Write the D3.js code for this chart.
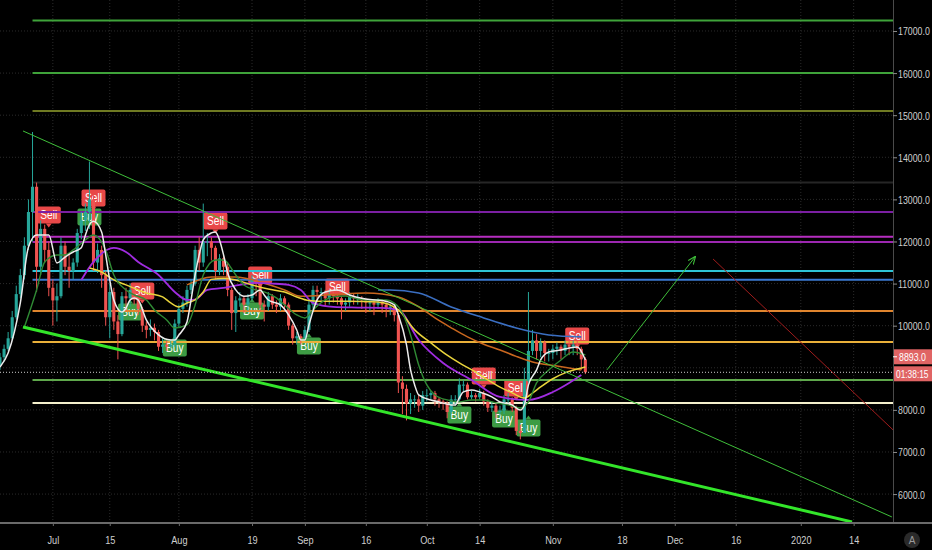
<!DOCTYPE html>
<html><head><meta charset="utf-8">
<script src="https://cdn.jsdelivr.net/npm/d3@7"></script>
<style>
html,body{margin:0;padding:0;background:#000;}
svg{display:block;}
text{font-family:"Liberation Sans",Arial,sans-serif;}
</style></head><body>
<svg id="chart" width="932" height="550"></svg>
<script>
// ---------- DATA ----------
const startDate = "2019-06-18";          // first daily candle
const viewEndDays = 219.68;              // visible right edge (days after start)
const priceTop = 17736, priceBottom = 5313;

const opens = [9050,9250,9450,9700,10200,10750,11200,11900,12700,13300,
 11400,12300,11800,10900,10600,10700,11900,11400,11300,11500,
 12200,12500,12700,13000,11500,11800,11200,10200,10800,10100,
 9800,10700,10650,10850,10700,10400,10000,9900,9950,9850,
 9500,9550,9500,9550,10050,10400,10550,10850,11000,11800,
 11500,12000,12000,11850,11300,11600,11400,10850,10300,10600,
 10650,10500,10650,11100,11000,10500,10450,10700,10500,10450,
 10650,10500,10000,9700,9750,9700,9900,10500,10850,10800,
 10800,10650,10750,10700,10650,10500,10550,10700,10650,10650,
 10600,10550,10550,10500,10550,10500,10400,10450,10250,8650,
 8500,8150,8250,8250,8100,8350,8350,8400,8250,8200,
 8150,7950,8250,8250,8600,8600,8300,8350,8300,8400,
 8200,8050,8100,7950,7980,8250,8250,8050,7500,7450,
 8700,9400,9650,9400,9600,9350,9350,9450,9500,9400,
 9550,9500,9550,9450,9200];
const highs = [9350,9550,9850,10350,10950,11350,12100,13000,14600,13400,
 12500,12400,12000,11100,11000,12100,12000,11700,11600,12300,
 12700,12900,13900,13100,11950,11900,11300,11000,10900,10250,
 10800,10900,11000,10900,10750,10450,10100,10150,10050,9900,
 9700,9650,9650,10150,10500,10700,10950,11100,11900,12100,
 12900,12200,12100,11900,11700,11650,11500,10900,10700,10800,
 10700,10750,11200,11150,11050,10600,10800,10750,10600,10750,
 10700,10550,10050,9850,9800,10000,10600,10950,10950,10900,
 10850,10850,10800,10750,10700,10650,10800,10750,10750,10700,
 10650,10600,10600,10650,10600,10550,10500,10500,10300,8800,
 8600,8400,8350,8350,8450,8500,8450,8450,8300,8250,
 8200,8350,8350,8750,8700,8650,8450,8400,8500,8450,
 8250,8200,8150,8100,8350,8400,8300,8100,7650,9000,
 10800,9900,9800,9700,9650,9450,9550,9600,9550,9650,
 9650,9650,9650,9500,9250];
const lows = [8950,9150,9400,9650,10150,10650,11100,11800,12000,10800,
 11200,11500,10700,10000,10100,10650,11200,10900,11100,11400,
 12050,12250,12300,11300,11250,10900,10000,9700,9900,9200,
 9750,10350,10450,10500,10250,9850,9700,9750,9650,9400,
 9350,9400,9450,9500,9950,10300,10450,10750,10950,11300,
 11400,11650,11550,11100,11200,11200,10700,9900,9850,10450,
 10300,10350,10600,10700,10350,10100,10350,10400,10300,10350,
 10350,9900,9550,9550,9550,9650,9850,10400,10550,10600,
 10450,10500,10550,10500,10150,10350,10450,10500,10500,10400,
 10300,10350,10250,10400,10300,10200,10250,10100,8400,7900,
 7750,7900,8050,7950,8000,8200,8250,8100,8050,8000,
 7800,7900,8100,8200,8450,8250,8250,8200,8250,8100,
 7950,7950,7800,7850,7900,8150,7950,7400,7300,7450,
 8650,9300,9200,9250,9150,9150,9200,9300,9200,9300,
 9300,9300,9300,8950,8850];
const closes = [9250,9450,9700,10200,10750,11200,11900,12700,13300,11400,
 12300,11800,10900,10600,10700,11900,11400,11300,11500,12200,
 12500,12700,13000,11500,11800,11200,10200,10800,10100,9800,
 10700,10650,10850,10700,10400,10000,9900,9950,9850,9500,
 9550,9500,9550,10050,10400,10550,10850,11000,11800,11500,
 12000,12000,11850,11300,11600,11400,10850,10300,10600,10650,
 10500,10650,11100,11000,10500,10450,10700,10500,10450,10650,
 10500,10000,9700,9750,9700,9900,10500,10850,10800,10800,
 10650,10750,10700,10650,10500,10550,10700,10650,10650,10600,
 10550,10550,10500,10550,10500,10400,10450,10250,8650,8500,
 8150,8250,8250,8100,8350,8350,8400,8250,8200,8150,
 7950,8250,8250,8600,8600,8300,8350,8300,8400,8200,
 8050,8100,7950,7980,8250,8250,8050,7500,7450,8700,
 9400,9650,9400,9600,9350,9350,9450,9500,9400,9550,
 9500,9550,9450,9200,8893];
const lastPrice = 8893.0;
const countdown = "01:38:15";

// moving averages: [day offset, price]
const maWhite = [[0,9020],[2,9350],[5,10540],[7,11870],[9,12155],[12,12155],[14,11490],[16,11630],[18,11750],[20,11850],[21,12150],[22,12400],[23,12480],[25,12226],[26,11680],[27,11086],[28,10611],[30,10326],[31,10421],[32,10611],[33,10659],[34,10611],[36,10136],[39,9780],[42,9661],[43,9661],[44,9780],[46,10089],[47,10611],[48,11205],[49,11680],[50,12036],[52,12203],[53,12226],[54,12036],[55,11680],[56,11250],[58,10849],[60,10700],[62,10730],[64,10849],[65,10730],[66,10611],[69,10493],[71,10255],[73,9899],[74,9661],[75,9661],[76,10018],[78,10611],[80,10801],[83,10849],[86,10730],[89,10650],[91,10620],[94,10600],[97,10493],[98,10255],[100,9543],[101,8949],[102,8593],[103,8355],[106,8236],[108,8189],[111,8118],[112,8118],[113,8284],[114,8426],[116,8474],[118,8426],[121,8308],[123,8189],[126,8118],[127,8046],[128,7999],[129,8118],[130,8593],[132,8949],[133,9186],[135,9376],[138,9424],[140,9471],[142,9495],[144,9186]];
const maGreen = [[6,9970],[9,10849],[11,11514],[14,11680],[16,11680],[18,11799],[21,12036],[23,12155],[26,11799],[28,11205],[31,10849],[33,10730],[36,10611],[38,10374],[41,10136],[43,9946],[46,10018],[48,10493],[50,11205],[53,11561],[55,11561],[58,11205],[60,10968],[63,10849],[65,10801],[68,10659],[70,10493],[73,10255],[75,10184],[77,10374],[80,10611],[82,10683],[85,10706],[87,10659],[90,10611],[92,10611],[95,10611],[97,10540],[99,10300],[101,9780],[103,9068],[105,8593],[107,8355],[110,8236],[113,8189],[116,8236],[119,8236],[122,8165],[125,8118],[128,8046],[130,8189],[132,8640],[135,8949],[138,9186],[141,9376],[144,9305]];
const maYellow = [[22,11371],[25,11276],[28,11086],[31,10968],[36,10778],[40,10683],[42,10540],[44,10445],[46,10540],[48,10611],[50,10800],[52,11100],[55,11120],[58,11086],[62,10968],[66,10870],[70,10800],[73,10683],[76,10600],[80,10580],[86,10580],[93,10560],[98,10374],[102,9900],[106,9590],[110,9300],[113,9115],[117,8900],[120,8711],[123,8540],[126,8403],[129,8284],[131,8400],[133,8545],[136,8740],[139,8878],[142,8970],[144,9020]];
const maOrange = [[46,10968],[52,11158],[58,11158],[64,11039],[70,10849],[74,10700],[82,10740],[90,10778],[98,10683],[103,10450],[107,10184],[111,9950],[115,9733],[119,9560],[123,9424],[127,9270],[131,9139],[137,9040],[143,8949]];
const maPurple = [[20,11086],[23,11514],[28,11846],[31,11751],[34,11514],[39,11205],[43,10801],[46,10611],[48,10620],[51,10849],[55,10896],[59,10968],[63,11015],[67,11000],[71,10968],[74,10849],[77,10540],[82,10445],[88,10430],[94,10421],[98,10374],[103,9661],[109,9115],[116,8711],[123,8308],[130,8236],[136,8426],[140,8640],[143,8830]];
const maBlue = [[93,10849],[96,10849],[103,10778],[111,10445],[119,10184],[127,9946],[135,9780],[143,9733]];

// horizontal levels
const levelPrices = [17250,16000,15100,13400,12700,12110,11990,11300,11090,10350,9610,8710,8165];
const levelColors = ["#3fa33a","#3fa33a","#6f7a22","#262626","#7b1fa2","#b62ec0","#9c27b0","#2ec4d6","#3a78d0","#e0852e","#eab03a","#5fa84c","#f4f0cc"];
const levelStartDay = 8;

// trend lines: [day offset, price] endpoints
const upperTrend = [[5.66,14625],[219.4,5457]];
const lowerTrend = [[5.66,9970],[209.6,5339]];
const arrowLine = [[149.3,8949],[171.0,11633]];
const redLine = [[175.4,11585],[219.7,7524]];

// signals
const sellDays = [12,23,53,64,35,83,119,127,142];
const sellPrices = [12630,13034,12488,11205,10825,10920,8806,8521,9756];
const buyDays = [22,32,43,62,76,113,124,130];
const buyPrices = [12583,10326,9471,10350,9519,7880,7785,7571];

// axes
const priceGrid = [6000,7000,8000,9000,10000,11000,12000,13000,14000,15000,16000,17000];
const priceLabels = [6000,7000,8000,10000,11000,12000,13000,14000,15000,16000,17000];
const timeTickDates = ["2019-07-01","2019-07-15","2019-08-01","2019-08-19","2019-09-01","2019-09-16","2019-10-01","2019-10-14","2019-11-01","2019-11-18","2019-12-01","2019-12-16","2020-01-01","2020-01-14"];
const timeTickLabels = ["Jul","15","Aug","19","Sep","16","Oct","14","Nov","18","Dec","16","2020","14"];

// ---------- DRAW ----------
const W = 932, H = 550, PW = 893, PH = 523;
const DAY = 864e5;
const t0 = new Date(startDate + "T00:00:00Z").getTime();
const dayDate = d => new Date(t0 + d * DAY);

const x = d3.scaleUtc().domain([dayDate(0), dayDate(viewEndDays)]).range([0, PW]);
const y = d3.scaleLinear().domain([priceBottom, priceTop]).range([PH, 0]);

const svg = d3.select("#chart");
svg.append("rect").attr("width", W).attr("height", H).attr("fill", "#000");
svg.append("clipPath").attr("id", "plot").append("rect").attr("width", PW).attr("height", PH);

// horizontally condensed text, drawn with a transform
function narrowText(parent, tx, ty, str, opts) {
  const o = Object.assign({ size: 11, fx: 0.74, anchor: "start", fill: "#c3c3c3" }, opts || {});
  return parent.append("text")
    .attr("transform", `translate(${tx},${ty}) scale(${o.fx},1)`)
    .attr("text-anchor", o.anchor).attr("font-size", o.size).attr("fill", o.fill).text(str);
}

const g = svg.append("g").attr("clip-path", "url(#plot)");

// grid
const tDates = timeTickDates.map(s => new Date(s + "T00:00:00Z"));
g.selectAll(".vg").data(tDates).join("line")
  .attr("x1", d => x(d)).attr("x2", d => x(d)).attr("y1", 0).attr("y2", PH)
  .attr("stroke", "#2b2b2b").attr("stroke-dasharray", "1,2");
g.selectAll(".hg").data(priceGrid).join("line")
  .attr("x1", 0).attr("x2", PW).attr("y1", d => y(d)).attr("y2", d => y(d))
  .attr("stroke", "#2b2b2b").attr("stroke-dasharray", "1,2");

// signal labels (under everything)
function drawLabel(day, price, kind) {
  const cx = x(dayDate(day)), cy = y(price);
  const w = 24, h = 17, col = kind === "Sell" ? "#e84848" : "#3d9c44";
  const gg = g.append("g");
  gg.append("rect").attr("x", cx - w/2).attr("y", cy - h/2).attr("width", w).attr("height", h)
    .attr("rx", 2).attr("fill", col);
  const tip = kind === "Sell"
    ? `M${cx-3},${cy+h/2} L${cx},${cy+h/2+4} L${cx+3},${cy+h/2} Z`
    : `M${cx-3},${cy-h/2} L${cx},${cy-h/2-4} L${cx+3},${cy-h/2} Z`;
  gg.append("path").attr("d", tip).attr("fill", col);
  narrowText(gg, cx, cy + 4, kind, { size: 12, fx: 0.85, anchor: "middle", fill: "#fff" });
}
buyDays.forEach((d, i) => drawLabel(d, buyPrices[i], "Buy"));
sellDays.forEach((d, i) => drawLabel(d, sellPrices[i], "Sell"));

// horizontal levels
g.selectAll(".lvl").data(levelPrices).join("line")
  .attr("x1", x(dayDate(levelStartDay))).attr("x2", PW)
  .attr("y1", d => y(d)).attr("y2", d => y(d))
  .attr("stroke", (d, i) => levelColors[i]).attr("stroke-width", 2);

// candles
const candles = closes.map((c, i) => ({ d: dayDate(i), o: opens[i], h: highs[i], l: lows[i], c }));
const up = "#26a69a", dn = "#ef5350";
const bw = 3.1;
g.selectAll(".wick").data(candles).join("line")
  .attr("x1", d => x(d.d)).attr("x2", d => x(d.d))
  .attr("y1", d => y(d.h)).attr("y2", d => y(d.l))
  .attr("stroke", d => d.c >= d.o ? up : dn).attr("stroke-width", 1);
g.selectAll(".body").data(candles).join("rect")
  .attr("x", d => x(d.d) - bw/2).attr("width", bw)
  .attr("y", d => y(Math.max(d.o, d.c)))
  .attr("height", d => Math.max(1, Math.abs(y(d.o) - y(d.c))))
  .attr("fill", d => d.c >= d.o ? up : dn);

// moving averages
const maLine = d3.line().x(p => x(dayDate(p[0]))).y(p => y(p[1])).curve(d3.curveMonotoneX);
[[maBlue, "#3b6fc2", 1.6], [maOrange, "#c9671f", 1.5], [maPurple, "#a02ce0", 1.8],
 [maYellow, "#e9d43c", 1.5], [maGreen, "#2f8a34", 1.4], [maWhite, "#ececec", 1.5]]
  .forEach(([data, col, sw]) => {
    g.append("path").attr("d", maLine(data)).attr("fill", "none")
      .attr("stroke", col).attr("stroke-width", sw);
  });

// trend lines
const tl = d3.line().x(p => x(dayDate(p[0]))).y(p => y(p[1]));
g.append("path").attr("d", tl(upperTrend)).attr("stroke", "#3fbf3a").attr("stroke-width", 1).attr("fill", "none");
g.append("path").attr("d", tl(lowerTrend)).attr("stroke", "#33e62a").attr("stroke-width", 3).attr("fill", "none");
g.append("path").attr("d", tl(redLine)).attr("stroke", "#a01c1c").attr("stroke-width", 1).attr("fill", "none");
svg.append("defs").append("marker").attr("id", "ah").attr("viewBox", "0 0 10 10")
  .attr("refX", 9).attr("refY", 5).attr("markerWidth", 8).attr("markerHeight", 8)
  .attr("orient", "auto").append("path").attr("d", "M0,1 L10,5 L0,9").attr("fill", "none")
  .attr("stroke", "#3fbf3a").attr("stroke-width", 1.4);
g.append("path").attr("d", tl(arrowLine)).attr("stroke", "#3fbf3a").attr("stroke-width", 1)
  .attr("fill", "none").attr("marker-end", "url(#ah)");

// last price dotted line
g.append("line").attr("x1", 0).attr("x2", PW).attr("y1", y(lastPrice)).attr("y2", y(lastPrice))
  .attr("stroke", "#cfcfcf").attr("stroke-dasharray", "1,2").attr("stroke-width", 1);

// price axis
const ya = svg.append("g").attr("transform", `translate(${PW},0)`)
  .call(d3.axisRight(y).tickValues(priceLabels).tickFormat("").tickSize(4));
ya.select(".domain").attr("stroke", "#4a4a4a").attr("d", `M0.5,0V${PH}`);
ya.selectAll(".tick line").attr("stroke", "#8a8a8a");
ya.selectAll(".tick").each(function (d) {
  narrowText(d3.select(this), 5, 4, d3.format(".1f")(d), { size: 11, fx: 0.8, fill: "#cfcfcf" });
});

// time axis
const xa = svg.append("g").attr("transform", `translate(0,${PH})`)
  .call(d3.axisBottom(x).tickValues(tDates).tickFormat("").tickSize(3));
xa.select(".domain").attr("stroke", "#6a6a6a").attr("stroke-width", 2).attr("d", `M0,0H${W}`);
xa.selectAll(".tick line").attr("stroke", "#6a6a6a");
xa.selectAll(".tick").each(function (d, i) {
  narrowText(d3.select(this), 0, 21, timeTickLabels[i], { size: 11.5, fx: 0.8, anchor: "middle", fill: "#cfcfcf" });
});

// price label boxes
const py = y(lastPrice);
svg.append("rect").attr("x", PW + 1).attr("y", py - 23).attr("width", W - PW - 1).attr("height", 15).attr("fill", "#e06464");
svg.append("line").attr("x1", PW).attr("x2", PW + 4).attr("y1", py - 15.5).attr("y2", py - 15.5).attr("stroke", "#fff");
narrowText(svg, PW + 6, py - 11.5, d3.format(".1f")(lastPrice), { size: 11, fx: 0.8, fill: "#fff" });
svg.append("rect").attr("x", PW + 1).attr("y", py - 6).attr("width", W - PW - 1).attr("height", 15).attr("fill", "#e06464");
narrowText(svg, PW + 3, py + 5.5, countdown, { size: 11, fx: 0.76, fill: "#fff" });

// auto-scale button
svg.append("circle").attr("cx", 912).attr("cy", 540).attr("r", 8).attr("fill", "#2a2a2a");
svg.append("text").attr("x", 912).attr("y", 544).attr("text-anchor", "middle").attr("fill", "#9a9a9a")
  .attr("font-size", 10).text("A");
</script>
</body></html>
